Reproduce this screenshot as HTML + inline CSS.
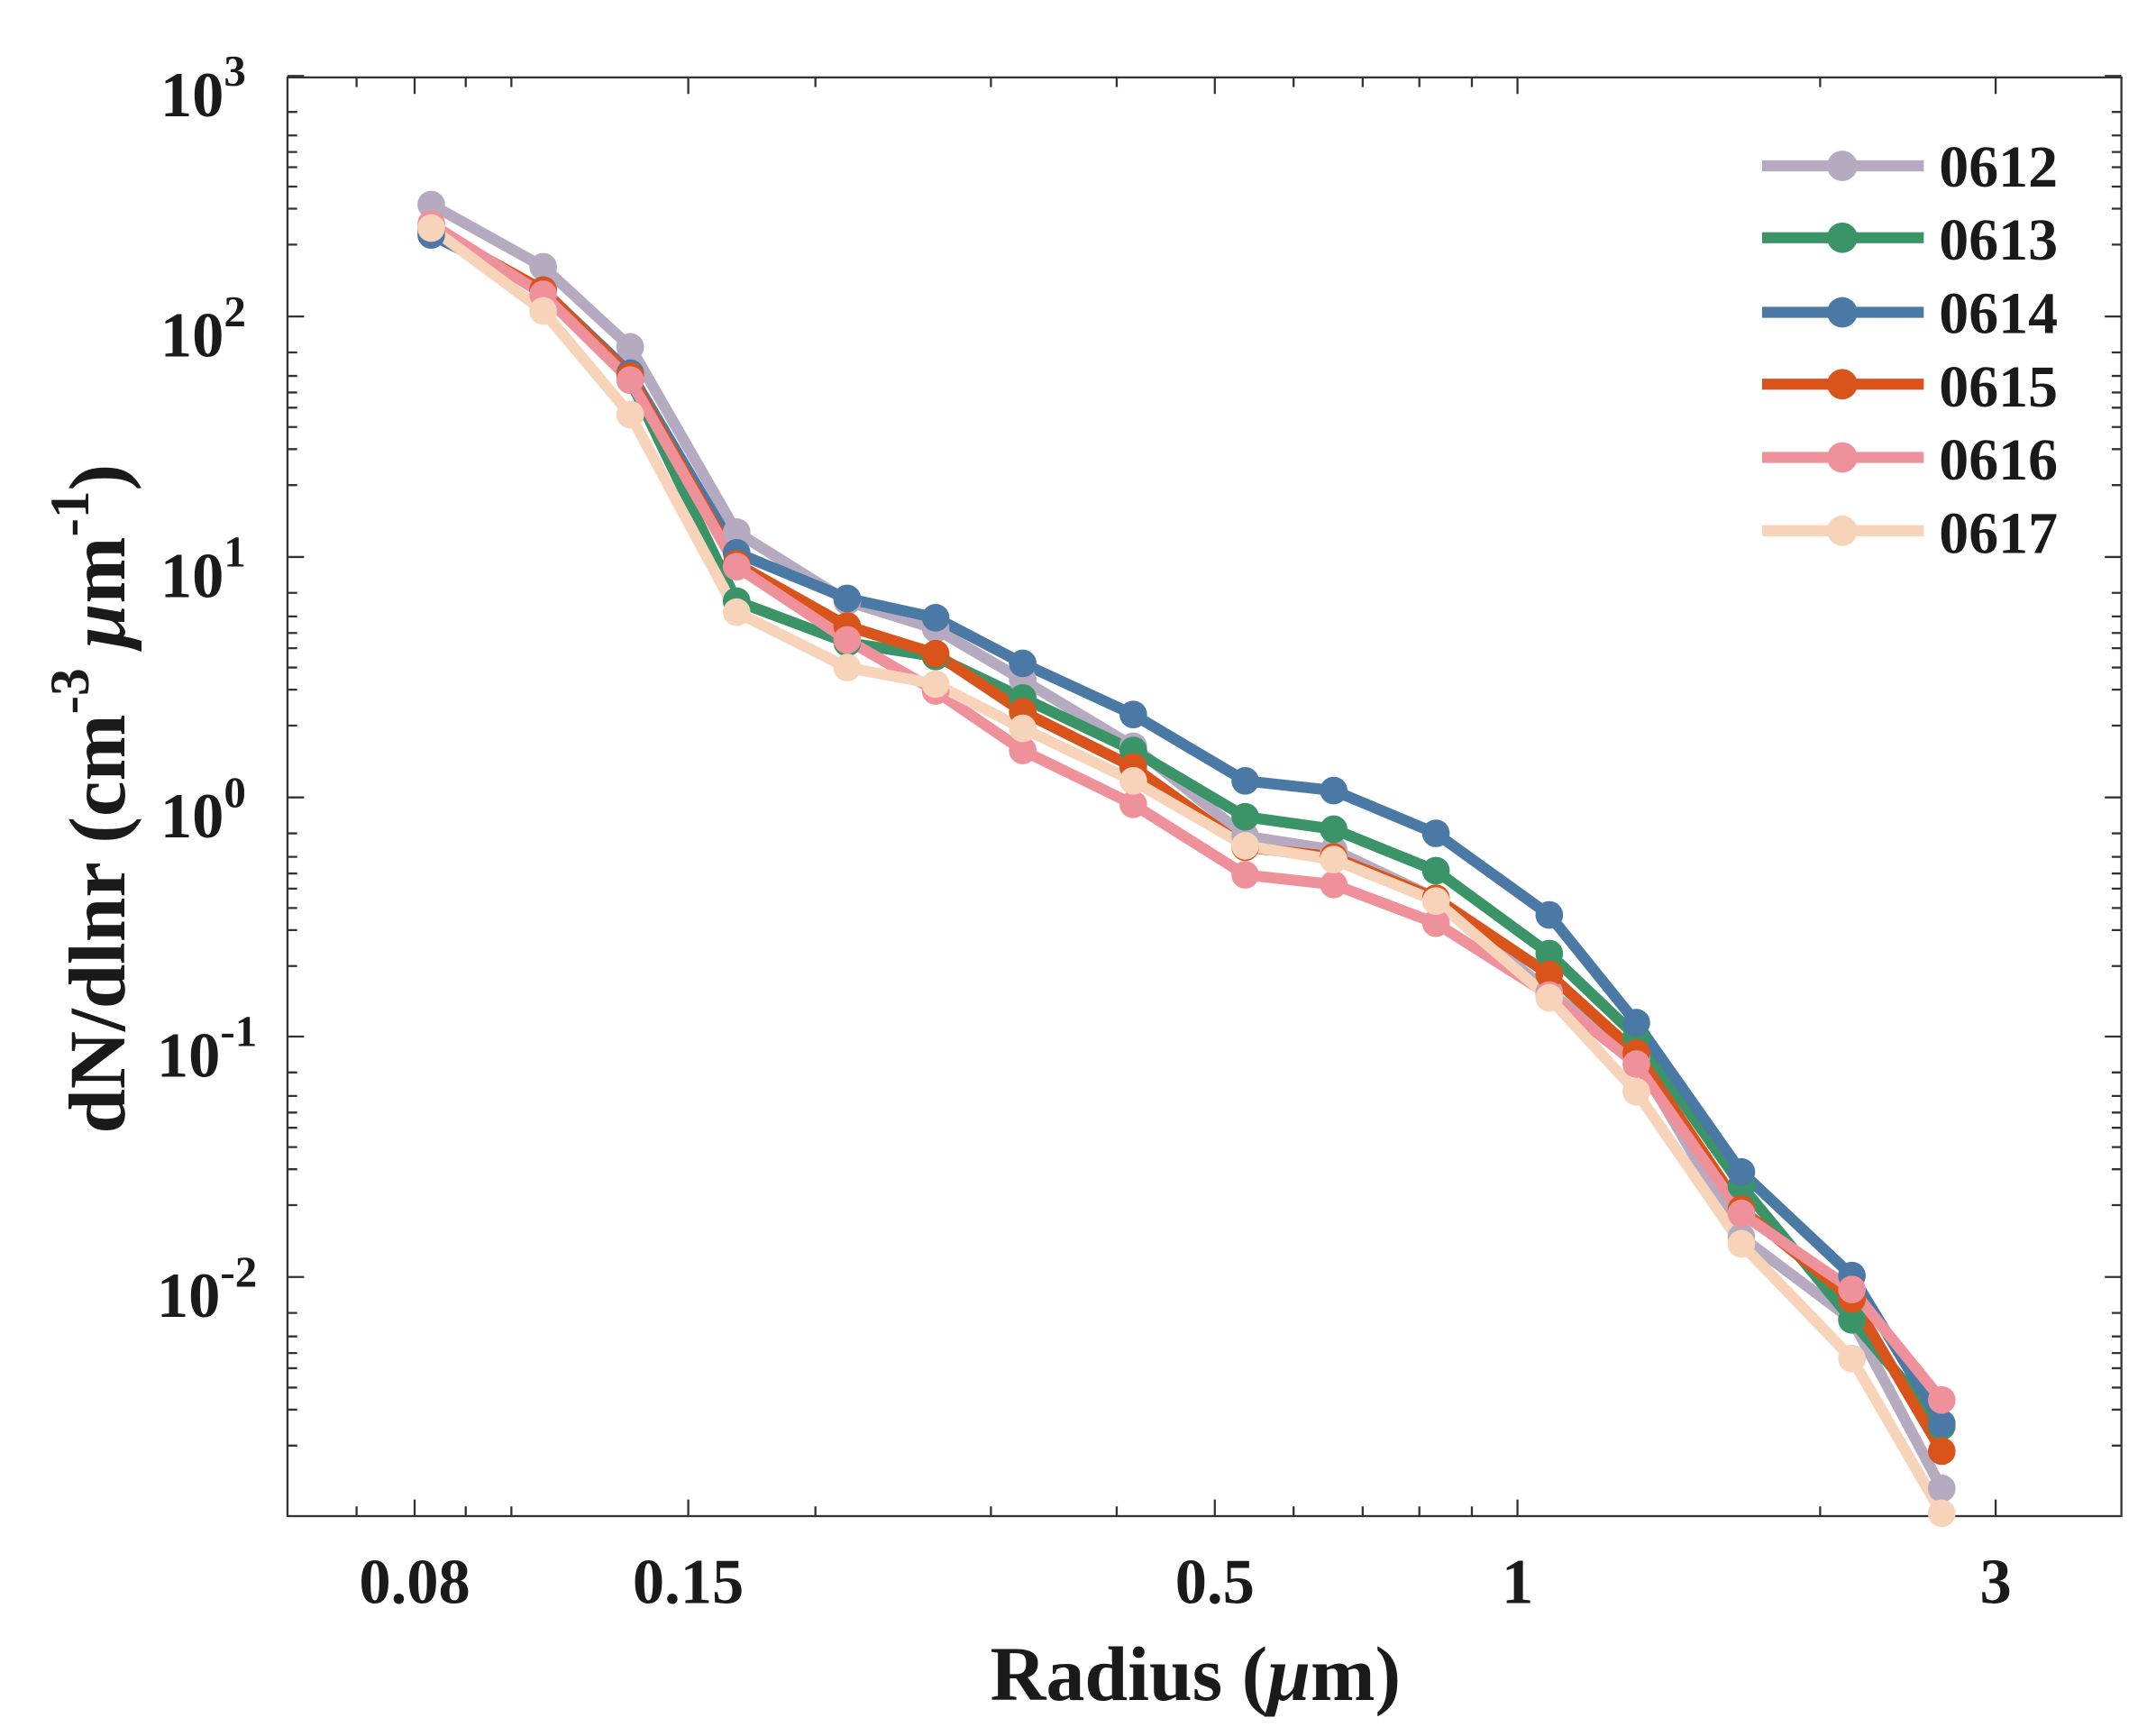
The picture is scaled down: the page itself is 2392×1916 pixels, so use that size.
<!DOCTYPE html>
<html><head><meta charset="utf-8"><style>
html,body{margin:0;padding:0;background:#fff;}
svg{display:block;}
text{font-family:"Liberation Serif",serif;font-weight:bold;fill:#1a1a1a;}
</style></head><body>
<svg width="2392" height="1916" viewBox="0 0 1560 1249.6" xmlns="http://www.w3.org/2000/svg">
<rect width="1560" height="1249.6" fill="#fff"/>
<g stroke="#333" stroke-width="1.5" fill="none">
<rect x="208" y="56" width="1327" height="1041"/>
<path d="
M208 55h12M208 229h12M208 403h12M208 577h12M208 750h12M208 924h12
M1535 55h-12M1535 229h-12M1535 403h-12M1535 577h-12M1535 750h-12M1535 924h-12
M208 81h7M208 98h7M208 110h7M208 121h7M208 135h7M208 151h7M208 177h7
M208 255h7M208 272h7M208 284h7M208 295h7M208 309h7M208 325h7M208 351h7
M208 429h7M208 446h7M208 458h7M208 469h7M208 483h7M208 499h7M208 525h7
M208 603h7M208 620h7M208 632h7M208 643h7M208 657h7M208 673h7M208 699h7
M208 776h7M208 793h7M208 805h7M208 816h7M208 830h7M208 846h7M208 872h7
M208 950h7M208 967h7M208 979h7M208 990h7M208 1004h7M208 1020h7M208 1046h7
M1535 81h-7M1535 98h-7M1535 110h-7M1535 121h-7M1535 135h-7M1535 151h-7M1535 177h-7
M1535 255h-7M1535 272h-7M1535 284h-7M1535 295h-7M1535 309h-7M1535 325h-7M1535 351h-7
M1535 429h-7M1535 446h-7M1535 458h-7M1535 469h-7M1535 483h-7M1535 499h-7M1535 525h-7
M1535 603h-7M1535 620h-7M1535 632h-7M1535 643h-7M1535 657h-7M1535 673h-7M1535 699h-7
M1535 776h-7M1535 793h-7M1535 805h-7M1535 816h-7M1535 830h-7M1535 846h-7M1535 872h-7
M1535 950h-7M1535 967h-7M1535 979h-7M1535 990h-7M1535 1004h-7M1535 1020h-7M1535 1046h-7
"/>
<path d="
M300 1097v-12M498 1097v-12M879 1097v-12M1098 1097v-12M1444 1097v-12
M258 1097v-7M337 1097v-7M370 1097v-7M590 1097v-7M717 1097v-7M808 1097v-7M936 1097v-7M986 1097v-7M1027 1097v-7M1065 1097v-7M1317 1097v-7
M300 56v12M498 56v12M879 56v12M1098 56v12M1444 56v12
M258 56v7M337 56v7M370 56v7M590 56v7M717 56v7M808 56v7M936 56v7M986 56v7M1027 56v7M1065 56v7M1317 56v7
"/>
</g>
<g font-size="46" text-anchor="end">
<text x="178" y="84">10<tspan font-size="32" dy="-22">3</tspan></text>
<text x="178" y="258">10<tspan font-size="32" dy="-22">2</tspan></text>
<text x="178" y="432">10<tspan font-size="32" dy="-22">1</tspan></text>
<text x="178" y="606">10<tspan font-size="32" dy="-22">0</tspan></text>
<text x="186" y="779">10<tspan font-size="32" dy="-22">-1</tspan></text>
<text x="186" y="953">10<tspan font-size="32" dy="-22">-2</tspan></text>
</g>
<g font-size="46" text-anchor="middle">
<text x="300" y="1160">0.08</text>
<text x="498" y="1160">0.15</text>
<text x="879" y="1160">0.5</text>
<text x="1098" y="1160">1</text>
<text x="1444" y="1160">3</text>
</g>
<text x="865" y="1230" font-size="56" text-anchor="middle">Radius (<tspan font-style="italic">μ</tspan>m)</text>
<text transform="translate(90,578) rotate(-90)" font-size="58" text-anchor="middle">dN/dlnr (cm<tspan font-size="40" dy="-26">-3</tspan><tspan dy="26"> </tspan><tspan font-style="italic">μ</tspan>m<tspan font-size="40" dy="-26">-1</tspan><tspan dy="26">)</tspan></text>

<g fill="none" stroke-width="8" stroke-linejoin="round">
<polyline stroke="#b6aac0" points="312,148 393,193 456,251 533,385 613,435 677,455 740,492 820,540 901,605 965,615 1039,650 1121,718 1184,765 1260,895 1340,955 1405,1077"/>
<polyline stroke="#3b9467" points="312,168 393,210 456,275 533,435 613,465 677,475 740,505 820,543 901,591 965,600 1039,630 1121,690 1184,750 1260,858 1340,955 1405,1032"/>
<polyline stroke="#4a79a5" points="312,170 393,210 456,270 533,400 613,433 677,447 740,480 820,517 901,565 965,572 1039,603 1121,662 1184,740 1260,848 1340,923 1405,1030"/>
<polyline stroke="#d8541b" points="312,165 393,210 456,272 533,408 613,453 677,473 740,515 820,555 901,613 965,620 1039,650 1121,705 1184,762 1260,875 1340,940 1405,1050"/>
<polyline stroke="#ef919b" points="312,162 393,213 456,275 533,410 613,463 677,500 740,543 820,582 901,633 965,640 1039,668 1121,720 1184,770 1260,878 1340,933 1405,1013"/>
<polyline stroke="#f7d3b9" points="312,165 393,225 456,300 533,443 613,483 677,495 740,527 820,565 901,612 965,622 1039,652 1121,722 1184,790 1260,900 1340,983 1405,1095"/>
</g>
<g>
<g fill="#b6aac0"><circle cx="312" cy="148" r="10"/><circle cx="393" cy="193" r="10"/><circle cx="456" cy="251" r="10"/><circle cx="533" cy="385" r="10"/><circle cx="613" cy="435" r="10"/><circle cx="677" cy="455" r="10"/><circle cx="740" cy="492" r="10"/><circle cx="820" cy="540" r="10"/><circle cx="901" cy="605" r="10"/><circle cx="965" cy="615" r="10"/><circle cx="1039" cy="650" r="10"/><circle cx="1121" cy="718" r="10"/><circle cx="1184" cy="765" r="10"/><circle cx="1260" cy="895" r="10"/><circle cx="1340" cy="955" r="10"/><circle cx="1405" cy="1077" r="10"/></g>
<g fill="#3b9467"><circle cx="312" cy="168" r="10"/><circle cx="393" cy="210" r="10"/><circle cx="456" cy="275" r="10"/><circle cx="533" cy="435" r="10"/><circle cx="613" cy="465" r="10"/><circle cx="677" cy="475" r="10"/><circle cx="740" cy="505" r="10"/><circle cx="820" cy="543" r="10"/><circle cx="901" cy="591" r="10"/><circle cx="965" cy="600" r="10"/><circle cx="1039" cy="630" r="10"/><circle cx="1121" cy="690" r="10"/><circle cx="1184" cy="750" r="10"/><circle cx="1260" cy="858" r="10"/><circle cx="1340" cy="955" r="10"/><circle cx="1405" cy="1032" r="10"/></g>
<g fill="#4a79a5"><circle cx="312" cy="170" r="10"/><circle cx="393" cy="210" r="10"/><circle cx="456" cy="270" r="10"/><circle cx="533" cy="400" r="10"/><circle cx="613" cy="433" r="10"/><circle cx="677" cy="447" r="10"/><circle cx="740" cy="480" r="10"/><circle cx="820" cy="517" r="10"/><circle cx="901" cy="565" r="10"/><circle cx="965" cy="572" r="10"/><circle cx="1039" cy="603" r="10"/><circle cx="1121" cy="662" r="10"/><circle cx="1184" cy="740" r="10"/><circle cx="1260" cy="848" r="10"/><circle cx="1340" cy="923" r="10"/><circle cx="1405" cy="1030" r="10"/></g>
<g fill="#d8541b"><circle cx="312" cy="165" r="10"/><circle cx="393" cy="210" r="10"/><circle cx="456" cy="272" r="10"/><circle cx="533" cy="408" r="10"/><circle cx="613" cy="453" r="10"/><circle cx="677" cy="473" r="10"/><circle cx="740" cy="515" r="10"/><circle cx="820" cy="555" r="10"/><circle cx="901" cy="613" r="10"/><circle cx="965" cy="620" r="10"/><circle cx="1039" cy="650" r="10"/><circle cx="1121" cy="705" r="10"/><circle cx="1184" cy="762" r="10"/><circle cx="1260" cy="875" r="10"/><circle cx="1340" cy="940" r="10"/><circle cx="1405" cy="1050" r="10"/></g>
<g fill="#ef919b"><circle cx="312" cy="162" r="10"/><circle cx="393" cy="213" r="10"/><circle cx="456" cy="275" r="10"/><circle cx="533" cy="410" r="10"/><circle cx="613" cy="463" r="10"/><circle cx="677" cy="500" r="10"/><circle cx="740" cy="543" r="10"/><circle cx="820" cy="582" r="10"/><circle cx="901" cy="633" r="10"/><circle cx="965" cy="640" r="10"/><circle cx="1039" cy="668" r="10"/><circle cx="1121" cy="720" r="10"/><circle cx="1184" cy="770" r="10"/><circle cx="1260" cy="878" r="10"/><circle cx="1340" cy="933" r="10"/><circle cx="1405" cy="1013" r="10"/></g>
<g fill="#f7d3b9"><circle cx="312" cy="165" r="10"/><circle cx="393" cy="225" r="10"/><circle cx="456" cy="300" r="10"/><circle cx="533" cy="443" r="10"/><circle cx="613" cy="483" r="10"/><circle cx="677" cy="495" r="10"/><circle cx="740" cy="527" r="10"/><circle cx="820" cy="565" r="10"/><circle cx="901" cy="612" r="10"/><circle cx="965" cy="622" r="10"/><circle cx="1039" cy="652" r="10"/><circle cx="1121" cy="722" r="10"/><circle cx="1184" cy="790" r="10"/><circle cx="1260" cy="900" r="10"/><circle cx="1340" cy="983" r="10"/><circle cx="1405" cy="1095" r="10"/></g>
</g>
<g stroke-width="8">
<line x1="1275" y1="120" x2="1392" y2="120" stroke="#b6aac0"/>
<line x1="1275" y1="172" x2="1392" y2="172" stroke="#3b9467"/>
<line x1="1275" y1="226" x2="1392" y2="226" stroke="#4a79a5"/>
<line x1="1275" y1="278" x2="1392" y2="278" stroke="#d8541b"/>
<line x1="1275" y1="331" x2="1392" y2="331" stroke="#ef919b"/>
<line x1="1275" y1="384" x2="1392" y2="384" stroke="#f7d3b9"/>
</g>
<circle cx="1333" cy="120" r="11" fill="#b6aac0"/>
<circle cx="1333" cy="172" r="11" fill="#3b9467"/>
<circle cx="1333" cy="226" r="11" fill="#4a79a5"/>
<circle cx="1333" cy="278" r="11" fill="#d8541b"/>
<circle cx="1333" cy="331" r="11" fill="#ef919b"/>
<circle cx="1333" cy="384" r="11" fill="#f7d3b9"/>
<g font-size="43" fill="#000">
<text x="1403" y="135">0612</text>
<text x="1403" y="188">0613</text>
<text x="1403" y="241">0614</text>
<text x="1403" y="294">0615</text>
<text x="1403" y="347">0616</text>
<text x="1403" y="400">0617</text>
</g>
</svg>
</body></html>
